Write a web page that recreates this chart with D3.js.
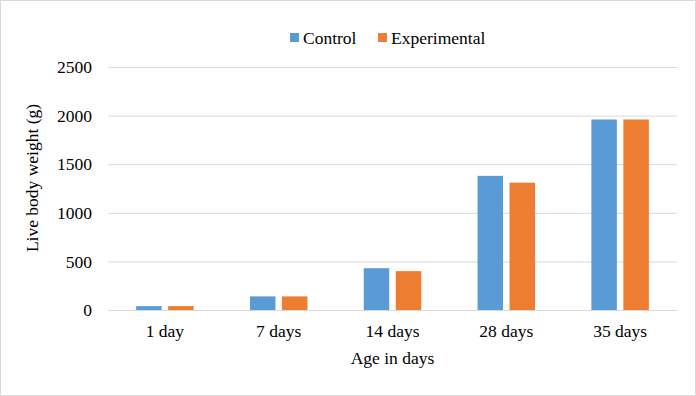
<!DOCTYPE html>
<html>
<head>
<meta charset="utf-8">
<script src="https://cdn.jsdelivr.net/npm/d3@7"></script>
<style>
  html, body { margin: 0; padding: 0; background: #fff; }
  svg { display: block; }
  svg text { font-family: "Liberation Serif", "Times New Roman", Times, "DejaVu Serif", serif; }
</style>
</head>
<body>
<svg id="chart" width="696" height="396"></svg>
<script>
const categories = ['1 day', '7 days', '14 days', '28 days', '35 days'];
const seriesNames = ['Control', 'Experimental'];
const controlValues = [40, 140, 430, 1380, 1960];
const experimentalValues = [40, 140, 400, 1310, 1960];
const yTicks = [0, 500, 1000, 1500, 2000, 2500];
const colors = ['#5B9BD5', '#ED7D31'];

const W = 696, H = 396;
const MARGIN = { top: 67, right: 19, bottom: 86, left: 108 };
const innerW = W - MARGIN.left - MARGIN.right;
const innerH = H - MARGIN.top - MARGIN.bottom;
const FS = '17.5px';

const svg = d3.select('#chart');

// outer border
svg.append('rect')
  .attr('x', 0.5).attr('y', 0.5)
  .attr('width', W - 1).attr('height', H - 1)
  .attr('fill', '#fff')
  .attr('stroke', '#d9d9d9');

const g = svg.append('g').attr('transform', `translate(${MARGIN.left},${MARGIN.top})`);

const x = d3.scaleBand().domain(categories).range([0, innerW]);
const y = d3.scaleLinear().domain([0, 2500]).range([innerH, 0]);

// grid lines
g.append('g')
  .call(d3.axisLeft(y).tickValues(yTicks).tickSize(-innerW).tickFormat(() => ''))
  .call(sel => sel.select('.domain').remove())
  .call(sel => sel.selectAll('line').attr('stroke', '#d9d9d9'));

// y axis labels
g.append('g')
  .call(d3.axisLeft(y).tickValues(yTicks).tickSize(0).tickPadding(16).tickFormat(d3.format('d')))
  .attr('font-family', null)
  .call(sel => sel.select('.domain').remove())
  .call(sel => sel.selectAll('.tick text')
    .attr('fill', '#000')
    .attr('font-size', FS));

// bars
const barW = 25.5;
const offsets = [-16, 16];
const data = [controlValues, experimentalValues];
data.forEach((vals, si) => {
  g.append('g').selectAll('rect')
    .data(categories)
    .join('rect')
    .attr('x', (c) => x(c) + x.bandwidth() / 2 + offsets[si] - barW / 2)
    .attr('width', barW)
    .attr('y', (c, i) => y(vals[i]))
    .attr('height', (c, i) => innerH - y(vals[i]))
    .attr('fill', colors[si]);
});

// x axis
g.append('g')
  .attr('transform', `translate(0,${innerH})`)
  .call(d3.axisBottom(x).tickSize(0).tickPadding(15))
  .attr('font-family', null)
  .call(sel => sel.select('.domain').attr('stroke', '#d9d9d9'))
  .call(sel => sel.selectAll('.tick text')
    .attr('fill', '#000')
    .attr('font-size', FS));

// axis titles
svg.append('text')
  .attr('x', MARGIN.left + innerW / 2)
  .attr('y', 364)
  .attr('text-anchor', 'middle')
  .attr('font-size', FS)
  .text('Age in days');

svg.append('text')
  .attr('transform', `translate(38,178) rotate(-90)`)
  .attr('text-anchor', 'middle')
  .attr('font-size', FS)
  .text('Live body weight (g)');

// legend
const legendX = [290, 378];
seriesNames.forEach((name, i) => {
  svg.append('rect')
    .attr('x', legendX[i]).attr('y', 33)
    .attr('width', 9).attr('height', 9)
    .attr('fill', colors[i]);
  svg.append('text')
    .attr('x', legendX[i] + 13).attr('y', 44)
    .attr('font-size', FS)
    .text(name);
});
</script>
</body>
</html>
